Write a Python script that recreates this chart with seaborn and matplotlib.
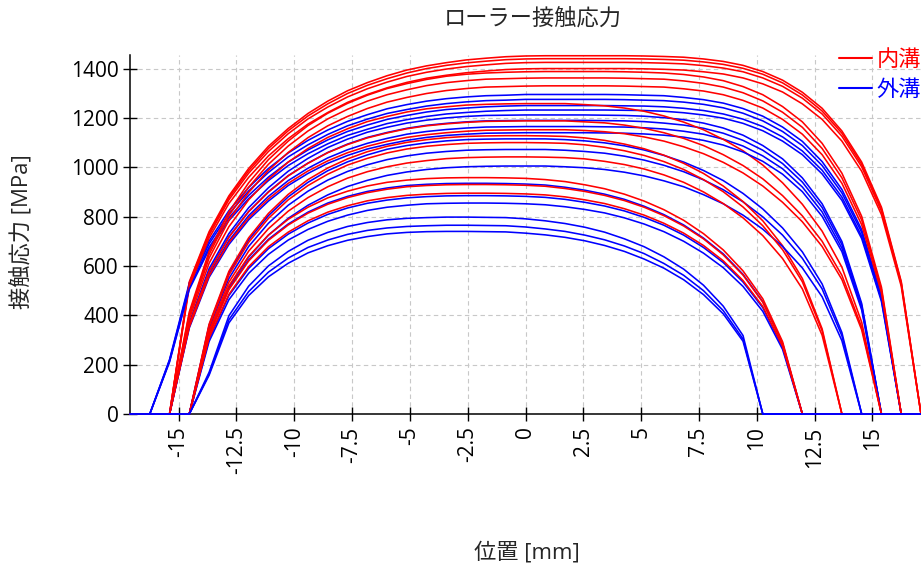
import matplotlib
matplotlib.use("Agg")
import matplotlib.pyplot as plt
import seaborn as sns
import pandas as pd
from matplotlib.lines import Line2D

# ---------------- data ----------------
position_mm = [-17.1, -16.245, -15.39, -14.535, -13.68, -12.825, -11.97, -11.115, -10.26, -9.405,
               -8.55, -7.695, -6.84, -5.985, -5.13, -4.275, -3.42, -2.565, -1.71, -0.855, 0.0,
               0.855, 1.71, 2.565, 3.42, 4.275, 5.13, 5.985, 6.84, 7.695, 8.55, 9.405, 10.26,
               11.115, 11.97, 12.825, 13.68, 14.535, 15.39, 16.245, 17.1]

# 内溝 (inner groove) contact stress profiles [MPa]
inner_1 = [0, 0, 0, 536, 739, 884, 995, 1085, 1157, 1218, 1268, 1310, 1343, 1371, 1394, 1411, 1424, 1435, 1442, 1448, 1451, 1452, 1452, 1452, 1452, 1452, 1451, 1449, 1446, 1439, 1429, 1413, 1388, 1353, 1304, 1239, 1147, 1021, 838, 537, 0]
inner_2 = [0, 0, 0, 531, 733, 877, 986, 1076, 1148, 1208, 1257, 1299, 1332, 1359, 1382, 1400, 1413, 1423, 1430, 1436, 1439, 1440, 1440, 1440, 1440, 1440, 1439, 1437, 1434, 1427, 1417, 1401, 1377, 1342, 1293, 1228, 1138, 1012, 831, 533, 0]
inner_3 = [0, 0, 0, 526, 725, 868, 976, 1064, 1136, 1196, 1244, 1285, 1318, 1345, 1368, 1385, 1398, 1408, 1415, 1421, 1424, 1425, 1425, 1425, 1425, 1425, 1424, 1422, 1419, 1412, 1402, 1387, 1362, 1328, 1280, 1216, 1126, 1002, 822, 527, 0]
inner_4 = [0, 0, 0, 517, 713, 853, 959, 1046, 1116, 1175, 1222, 1263, 1295, 1322, 1344, 1361, 1373, 1383, 1390, 1396, 1399, 1400, 1400, 1400, 1400, 1400, 1399, 1397, 1394, 1387, 1378, 1362, 1338, 1305, 1257, 1194, 1106, 984, 808, 518, 0]
inner_5 = [0, 0, 0, 414, 659, 819, 937, 1031, 1106, 1169, 1219, 1259, 1292, 1319, 1339, 1356, 1369, 1377, 1382, 1385, 1387, 1388, 1388, 1388, 1388, 1387, 1385, 1382, 1376, 1366, 1351, 1327, 1294, 1246, 1184, 1097, 976, 801, 514, 0, 0]
inner_6 = [0, 0, 0, 406, 647, 804, 919, 1012, 1086, 1147, 1196, 1235, 1268, 1294, 1314, 1331, 1343, 1351, 1357, 1359, 1361, 1362, 1362, 1362, 1362, 1361, 1359, 1357, 1350, 1340, 1325, 1302, 1269, 1223, 1162, 1076, 957, 786, 504, 0, 0]
inner_7 = [0, 0, 0, 396, 632, 785, 898, 988, 1060, 1120, 1168, 1206, 1238, 1264, 1283, 1299, 1311, 1319, 1325, 1327, 1329, 1330, 1330, 1330, 1330, 1329, 1327, 1325, 1318, 1309, 1294, 1271, 1240, 1194, 1134, 1051, 935, 767, 492, 0, 0]
inner_8 = [0, 0, 0, 385, 611, 759, 868, 952, 1021, 1076, 1121, 1156, 1185, 1206, 1224, 1237, 1245, 1252, 1255, 1257, 1258, 1258, 1258, 1254, 1249, 1240, 1227, 1208, 1183, 1152, 1113, 1067, 1009, 937, 850, 741, 595, 372, 0, 0, 0]
inner_9 = [0, 0, 0, 364, 577, 716, 820, 899, 965, 1016, 1059, 1092, 1119, 1139, 1156, 1168, 1176, 1182, 1186, 1187, 1188, 1188, 1188, 1184, 1180, 1171, 1158, 1140, 1117, 1088, 1051, 1007, 953, 885, 803, 700, 562, 352, 0, 0, 0]
inner_10 = [0, 0, 0, 353, 560, 695, 795, 872, 935, 985, 1026, 1059, 1085, 1105, 1121, 1132, 1140, 1146, 1150, 1151, 1152, 1152, 1152, 1149, 1144, 1136, 1123, 1106, 1083, 1055, 1020, 977, 924, 858, 779, 679, 545, 341, 0, 0, 0]
inner_11 = [0, 0, 0, 0, 364, 578, 714, 813, 890, 950, 997, 1034, 1063, 1085, 1101, 1112, 1120, 1125, 1127, 1128, 1128, 1127, 1125, 1119, 1109, 1094, 1075, 1049, 1016, 975, 924, 861, 783, 682, 549, 345, 0, 0, 0, 0, 0]
inner_12 = [0, 0, 0, 0, 355, 563, 696, 793, 868, 926, 972, 1009, 1036, 1058, 1074, 1085, 1092, 1097, 1099, 1100, 1100, 1099, 1097, 1091, 1081, 1067, 1048, 1023, 991, 950, 901, 839, 763, 666, 536, 337, 0, 0, 0, 0, 0]
inner_13 = [0, 0, 0, 0, 337, 534, 660, 751, 822, 877, 921, 956, 982, 1002, 1017, 1027, 1035, 1039, 1041, 1042, 1042, 1041, 1039, 1034, 1024, 1011, 993, 969, 939, 900, 853, 795, 723, 630, 507, 319, 0, 0, 0, 0, 0]
inner_14 = [0, 0, 0, 0, 330, 519, 639, 725, 789, 838, 876, 903, 924, 939, 948, 954, 957, 958, 958, 957, 955, 950, 942, 929, 913, 891, 863, 828, 785, 731, 665, 580, 467, 293, 0, 0, 0, 0, 0, 0, 0]
inner_15 = [0, 0, 0, 0, 320, 504, 620, 704, 766, 814, 850, 877, 897, 911, 921, 926, 929, 930, 930, 929, 927, 923, 914, 902, 886, 865, 838, 804, 762, 710, 645, 563, 453, 285, 0, 0, 0, 0, 0, 0, 0]
inner_16 = [0, 0, 0, 0, 308, 485, 597, 678, 737, 783, 818, 844, 864, 877, 886, 891, 894, 895, 895, 894, 892, 888, 880, 868, 853, 832, 806, 773, 733, 683, 621, 541, 436, 274, 0, 0, 0, 0, 0, 0, 0]

# 外溝 (outer groove) contact stress profiles [MPa]
outer_1 = [0, 0, 221, 531, 701, 824, 918, 995, 1058, 1109, 1151, 1186, 1213, 1237, 1254, 1268, 1278, 1285, 1290, 1292, 1295, 1295, 1295, 1295, 1295, 1294, 1292, 1290, 1283, 1274, 1260, 1238, 1207, 1163, 1105, 1023, 910, 747, 479, 0, 0]
outer_2 = [0, 0, 218, 523, 690, 811, 904, 979, 1042, 1091, 1133, 1168, 1195, 1218, 1234, 1248, 1258, 1265, 1270, 1272, 1275, 1275, 1275, 1275, 1275, 1274, 1272, 1270, 1264, 1255, 1241, 1219, 1188, 1145, 1088, 1007, 896, 736, 472, 0, 0]
outer_3 = [0, 0, 214, 513, 676, 795, 886, 960, 1021, 1070, 1111, 1145, 1171, 1194, 1210, 1224, 1234, 1240, 1245, 1248, 1250, 1250, 1250, 1250, 1250, 1249, 1248, 1245, 1239, 1230, 1216, 1195, 1165, 1123, 1066, 988, 879, 721, 463, 0, 0]
outer_4 = [0, 0, 211, 505, 667, 784, 873, 946, 1007, 1055, 1095, 1129, 1154, 1177, 1193, 1206, 1216, 1222, 1227, 1230, 1232, 1232, 1232, 1232, 1232, 1231, 1230, 1227, 1221, 1212, 1199, 1178, 1148, 1106, 1051, 973, 866, 711, 456, 0, 0]
outer_5 = [0, 0, 0, 371, 589, 731, 836, 917, 984, 1036, 1080, 1114, 1142, 1162, 1179, 1191, 1200, 1206, 1210, 1211, 1212, 1212, 1212, 1212, 1211, 1210, 1207, 1201, 1193, 1179, 1159, 1130, 1088, 1034, 957, 852, 699, 448, 0, 0, 0]
outer_6 = [0, 0, 0, 364, 578, 718, 821, 901, 966, 1017, 1060, 1094, 1121, 1141, 1158, 1170, 1178, 1184, 1188, 1189, 1190, 1190, 1190, 1190, 1189, 1188, 1185, 1179, 1171, 1158, 1138, 1109, 1069, 1015, 940, 837, 687, 440, 0, 0, 0]
outer_7 = [0, 0, 0, 356, 566, 702, 804, 882, 946, 996, 1038, 1071, 1097, 1117, 1134, 1145, 1153, 1159, 1163, 1164, 1165, 1165, 1165, 1165, 1164, 1163, 1160, 1155, 1146, 1134, 1114, 1086, 1046, 994, 920, 819, 672, 431, 0, 0, 0]
outer_8 = [0, 0, 0, 349, 554, 687, 787, 863, 926, 975, 1016, 1048, 1074, 1093, 1109, 1121, 1129, 1134, 1138, 1139, 1140, 1140, 1140, 1140, 1139, 1138, 1135, 1130, 1122, 1109, 1090, 1062, 1024, 972, 901, 801, 658, 422, 0, 0, 0]
outer_9 = [0, 0, 0, 0, 360, 571, 706, 804, 880, 939, 986, 1022, 1050, 1073, 1088, 1099, 1107, 1112, 1114, 1115, 1115, 1115, 1112, 1107, 1099, 1087, 1070, 1048, 1021, 987, 946, 894, 831, 754, 657, 527, 330, 0, 0, 0, 0]
outer_10 = [0, 0, 0, 0, 346, 549, 679, 773, 846, 903, 948, 983, 1010, 1031, 1046, 1057, 1064, 1069, 1071, 1072, 1072, 1072, 1069, 1064, 1057, 1045, 1029, 1008, 982, 949, 909, 860, 799, 725, 631, 507, 317, 0, 0, 0, 0]
outer_11 = [0, 0, 0, 0, 325, 515, 636, 725, 793, 846, 888, 922, 947, 967, 981, 991, 998, 1002, 1004, 1005, 1005, 1005, 1002, 998, 991, 980, 965, 945, 921, 889, 852, 806, 749, 679, 592, 475, 297, 0, 0, 0, 0]
outer_12 = [0, 0, 0, 0, 322, 507, 624, 708, 770, 818, 855, 882, 902, 916, 926, 931, 934, 935, 935, 934, 932, 928, 919, 907, 891, 870, 842, 808, 766, 713, 649, 566, 455, 286, 0, 0, 0, 0, 0, 0, 0]
outer_13 = [0, 0, 0, 0, 304, 480, 590, 670, 729, 774, 809, 835, 854, 867, 876, 881, 884, 885, 885, 884, 882, 878, 870, 858, 843, 823, 797, 765, 725, 675, 614, 535, 431, 271, 0, 0, 0, 0, 0, 0, 0]
outer_14 = [0, 0, 0, 0, 294, 463, 570, 647, 705, 748, 781, 806, 825, 838, 846, 852, 854, 855, 855, 854, 852, 848, 840, 829, 815, 795, 770, 739, 700, 652, 593, 517, 416, 262, 0, 0, 0, 0, 0, 0, 0]
outer_15 = [0, 0, 0, 0, 169, 398, 518, 600, 659, 704, 736, 760, 776, 787, 793, 796, 798, 798, 797, 796, 791, 783, 772, 757, 737, 710, 678, 637, 587, 522, 437, 318, 0, 0, 0, 0, 0, 0, 0, 0, 0]
outer_16 = [0, 0, 0, 0, 162, 382, 496, 575, 632, 675, 705, 728, 744, 754, 760, 763, 765, 765, 764, 763, 758, 750, 740, 725, 706, 681, 650, 610, 562, 500, 419, 304, 0, 0, 0, 0, 0, 0, 0, 0, 0]
outer_17 = [0, 0, 0, 0, 157, 369, 480, 556, 611, 653, 682, 704, 719, 730, 736, 739, 740, 740, 739, 738, 733, 726, 716, 702, 683, 659, 628, 591, 544, 484, 406, 295, 0, 0, 0, 0, 0, 0, 0, 0, 0]

inner_curves = [inner_1, inner_2, inner_3, inner_4, inner_5, inner_6, inner_7, inner_8,
                inner_9, inner_10, inner_11, inner_12, inner_13, inner_14, inner_15, inner_16]
outer_curves = [outer_1, outer_2, outer_3, outer_4, outer_5, outer_6, outer_7, outer_8, outer_9,
                outer_10, outer_11, outer_12, outer_13, outer_14, outer_15, outer_16, outer_17]

series_names = ["内溝", "外溝"]
series_colors = ["#ff0000", "#0000ff"]
x_tick_values = [-15, -12.5, -10, -7.5, -5, -2.5, 0, 2.5, 5, 7.5, 10, 12.5, 15]
x_tick_labels = ["-15", "-12.5", "-10", "-7.5", "-5", "-2.5", "0", "2.5", "5", "7.5", "10", "12.5", "15"]
y_tick_values = [0, 200, 400, 600, 800, 1000, 1200, 1400]

title_text = "ローラー接触応力"
x_label = "位置 [mm]"
y_label = "接触応力 [MPa]"

# ---------------- build long table (interleaved draw order) ----------------
rows = []
order = []
palette = {}
n = max(len(inner_curves), len(outer_curves))
for k in range(n):
    for name, color, curves in ((series_names[0], series_colors[0], inner_curves),
                                (series_names[1], series_colors[1], outer_curves)):
        if k < len(curves):
            cid = f"{name}{k + 1}"
            vals = curves[k]
            if len(vals) != len(position_mm):
                print("length mismatch", cid, len(vals))
            order.append(cid)
            palette[cid] = color
            for x, v in zip(position_mm, vals):
                rows.append({"位置": x, "応力": v, "curve": cid})
df = pd.DataFrame(rows)

# ---------------- plot ----------------
sns.set_style("ticks")
plt.rcParams["font.family"] = ["Open Sans", "Noto Sans CJK JP", "DejaVu Sans"]
plt.rcParams["axes.unicode_minus"] = False

W, H = 921, 576
fig = plt.figure(figsize=(W / 100, H / 100), dpi=100)
ax = fig.add_axes([130 / W, 1 - 414 / H, (W - 130) / W, (414 - 55) / H])

sns.lineplot(data=df, x="位置", y="応力", hue="curve", hue_order=order, palette=palette,
             estimator=None, sort=False, legend=False, linewidth=1.15, ax=ax)
for ln in ax.get_lines():
    ln.set_clip_on(False)
    ln.set_zorder(3)

ax.set_xlim(position_mm[0], position_mm[-1])
ax.set_ylim(0, 1455)
ax.set_xticks(x_tick_values)
ax.set_xticklabels(x_tick_labels, rotation=90)
ax.set_yticks(y_tick_values)
ax.tick_params(axis="both", direction="inout", length=10, width=1.0, labelsize=15,
               colors="#000000")
ax.tick_params(axis="y", pad=3)
ax.tick_params(axis="x", pad=4)
ax.grid(True, linestyle=(0, (4, 3)), color="#c8c8c8", linewidth=0.8)
ax.set_axisbelow(True)
for side in ("top", "right"):
    ax.spines[side].set_visible(False)
for side in ("left", "bottom"):
    ax.spines[side].set_color("#000000")
    ax.spines[side].set_linewidth(1.1)
ax.set_xlabel("")
ax.set_ylabel("")

fig.text(532.5 / W, 1 - 20 / H, title_text, ha="center", va="center", fontsize=16)
fig.text(527 / W, 1 - 553 / H, x_label, ha="center", va="center", fontsize=16)
fig.text(22 / W, 1 - 232 / H, y_label, ha="center", va="center", fontsize=16, rotation=90)

handles = [Line2D([0], [0], color=c, lw=1.5) for c in series_colors]
ax.legend(handles, series_names, loc="upper right", bbox_to_anchor=(1.0, 1.015),
          frameon=False, fontsize=16, handlelength=1.5, handletextpad=0.2,
          borderpad=0.0, borderaxespad=0.0, labelspacing=0.4, labelcolor=series_colors)

fig.savefig("out.png", dpi=100)
